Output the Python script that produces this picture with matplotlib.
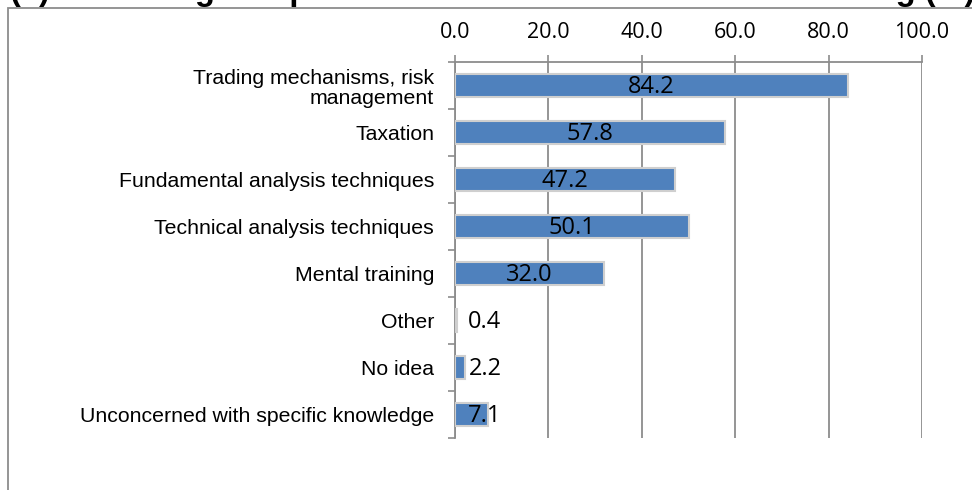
import matplotlib
matplotlib.use('Agg')

import matplotlib.pyplot as plt
from matplotlib.patches import Rectangle

# Chart data
categories = ['Trading mechanisms, risk\nmanagement', 'Taxation',
              'Fundamental analysis techniques', 'Technical analysis techniques',
              'Mental training', 'Other', 'No idea',
              'Unconcerned with specific knowledge']
values = [84.2, 57.8, 47.2, 50.1, 32.0, 0.4, 2.2, 7.1]
x_ticks = [0, 20, 40, 60, 80, 100]
title = '(c) Knowledge acquired so far and essential for FX trading (%)'

W, H = 972, 490
fig = plt.figure(figsize=(W / 100, H / 100), dpi=100)

# outer chart border (cropped at right and bottom)
fig.patches.append(Rectangle((8 / W, -0.1), 1.2, 1 - 8 / H + 0.1,
                             transform=fig.transFigure, fill=False,
                             edgecolor='#8c8c8c', linewidth=1.3))

# title, mostly cropped off the top
fig.text(10 / W, 1 + 0.5 / H, title, ha='left', va='baseline',
         fontsize=23.5, fontweight='bold', family='Liberation Sans')

ax = fig.add_axes([455 / W, 1 - 438 / H, (922 - 455) / W, (438 - 62) / H])

pos = list(range(len(categories)))
ax.barh(pos, values, height=0.47, color='#4F81BD', edgecolor='#CFCFCF',
        linewidth=1.5, zorder=3)

ax.set_xlim(0, 100)
ax.set_ylim(len(categories) - 0.5, -0.5)

# value axis on top
ax.xaxis.tick_top()
ax.set_xticks(x_ticks)
ax.set_xticklabels(['%.1f' % t for t in x_ticks], family='Open Sans', fontsize=15.5)
ax.tick_params(axis='x', which='major', length=5, width=1.2, color='#8c8c8c',
               pad=8.5, direction='out')
ax.grid(axis='x', color='#8c8c8c', linewidth=1.3, zorder=0)

# categories with ticks between them
ax.set_yticks(pos)
ax.set_yticklabels(categories, family='Liberation Sans', fontsize=15.3, linespacing=1.1)
ax.set_yticks([p + 0.5 for p in [-1] + pos], minor=True)
ax.tick_params(axis='y', which='major', length=0, pad=15)
ax.tick_params(axis='y', which='minor', length=5, width=1.2, color='#8c8c8c',
               direction='out')

for side in ['right', 'bottom']:
    ax.spines[side].set_visible(False)
for side in ['left', 'top']:
    ax.spines[side].set_color('#8c8c8c')
    ax.spines[side].set_linewidth(1.3)

# data labels
for p, v in zip(pos, values):
    ax.text(max(v / 2, 6.4), p + 0.04, '%.1f' % v, ha='center', va='center',
            family='Open Sans', fontsize=17, zorder=4)

fig.savefig('out.png', dpi=100)
